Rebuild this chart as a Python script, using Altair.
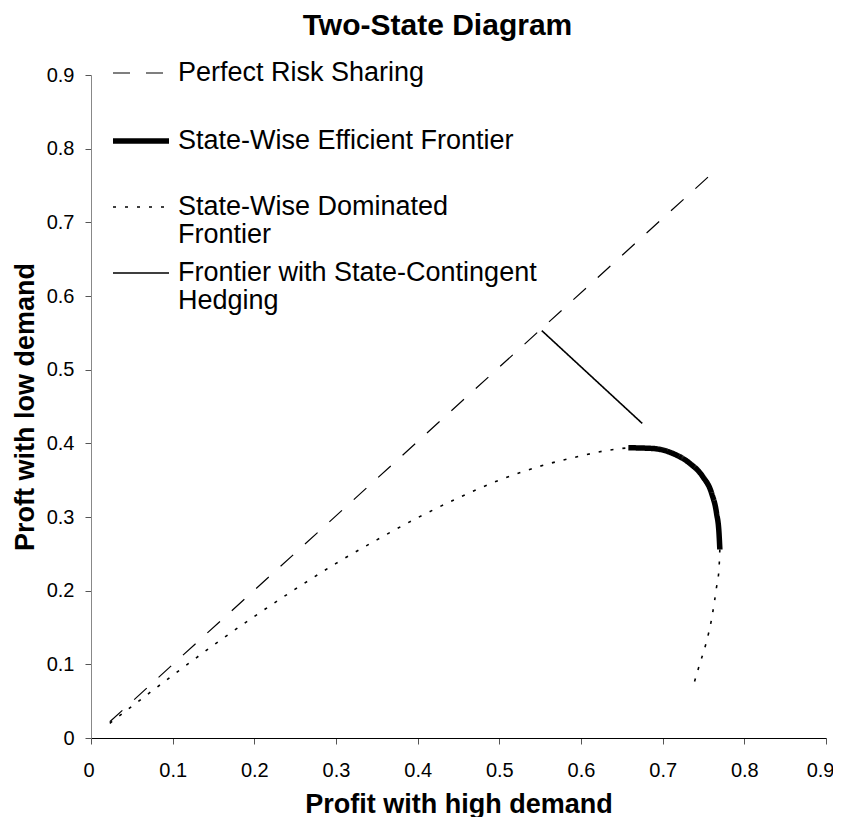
import altair as alt
import pandas as pd

FONT = "Liberation Sans"

series_names = [
    "Perfect Risk Sharing",
    "State-Wise Efficient Frontier",
    "State-Wise Dominated Frontier",
    "Frontier with State-Contingent Hedging",
]

tick_values = [0, 0.1, 0.2, 0.3, 0.4, 0.5, 0.6, 0.7, 0.8, 0.9]

# Perfect risk sharing (diagonal)
prs_x = [0.023, 0.766]
prs_y = [0.022, 0.772]

# State-wise efficient frontier (thick)
eff_x = [0.658, 0.688, 0.713, 0.733, 0.749, 0.760, 0.766, 0.769, 0.770]
eff_y = [0.394, 0.393, 0.386, 0.373, 0.355, 0.332, 0.305, 0.278, 0.256]

# State-wise dominated frontier (dotted), two pieces
dom_up_x = [0.023, 0.05, 0.10, 0.15, 0.20, 0.25, 0.30, 0.35, 0.40, 0.45, 0.50, 0.55, 0.60, 0.63, 0.658]
dom_up_y = [0.020, 0.043, 0.085, 0.126, 0.165, 0.202, 0.237, 0.269, 0.299, 0.326, 0.350, 0.369, 0.383, 0.390, 0.394]
dom_lo_x = [0.770, 0.769, 0.766, 0.760, 0.753, 0.745, 0.737]
dom_lo_y = [0.256, 0.230, 0.205, 0.162, 0.128, 0.099, 0.069]

# Frontier with state-contingent hedging
hedge_x = [0.552, 0.675]
hedge_y = [0.553, 0.427]

pieces = [
    (series_names[0], "prs", prs_x, prs_y),
    (series_names[2], "dom_up", dom_up_x, dom_up_y),
    (series_names[2], "dom_lo", dom_lo_x, dom_lo_y),
    (series_names[1], "eff", eff_x, eff_y),
    (series_names[3], "hedge", hedge_x, hedge_y),
]
rows = []
for name, seg, xs, ys in pieces:
    for i, (xv, yv) in enumerate(zip(xs, ys)):
        rows.append({"series": name, "segment": seg, "idx": i, "x": xv, "y": yv})
df = pd.DataFrame(rows)

label_expr = (
    "datum.label == 'State-Wise Dominated Frontier' ? ['State-Wise Dominated', 'Frontier'] : "
    "datum.label == 'Frontier with State-Contingent Hedging' ? ['Frontier with State-Contingent', 'Hedging'] : "
    "[datum.label, '']"
)

legend = alt.Legend(
    title=None,
    orient="none",
    legendX=33,
    legendY=-17,
    symbolType="M-2,0H2",
    symbolSize=784,
    symbolStrokeColor="black",
    labelFont=FONT,
    labelFontSize=27,
    labelColor="black",
    labelLimit=700,
    labelOffset=20,
    labelBaseline="middle",
    labelExpr=label_expr,
    rowPadding=10,
    padding=0,
)

dash_scale = alt.Scale(domain=series_names, range=[[17, 16], [1, 0], [3, 9], [1, 0]])
width_scale = alt.Scale(type="ordinal", domain=series_names, range=[1.2, 5.5, 1.6, 1.6])

x_axis = alt.Axis(
    values=tick_values, format="~g", grid=False,
    labelFont=FONT, labelFontSize=20, labelColor="black", labelPadding=16,
    labelFlush=True, labelFlushOffset=8,
    tickSize=6, tickColor="#555555", domainColor="black",
    title="Profit with high demand", titleFont=FONT, titleFontSize=27,
    titleFontWeight="bold", titleColor="black", titlePadding=11,
)
y_axis = alt.Axis(
    values=tick_values, format="~g", grid=False,
    labelFont=FONT, labelFontSize=20, labelColor="black", labelPadding=11, labelFlush=False,
    tickSize=6, tickColor="#555555", domainColor="#888888",
    title="Proft with low demand", titleFont=FONT, titleFontSize=27,
    titleFontWeight="bold", titleColor="black", titlePadding=7,
)

chart = (
    alt.Chart(df)
    .mark_line(color="black", strokeCap="butt", interpolate="monotone")
    .encode(
        x=alt.X("x:Q", scale=alt.Scale(domain=[0, 0.9], nice=False, zero=False), axis=x_axis),
        y=alt.Y("y:Q", scale=alt.Scale(domain=[0, 0.9], nice=False, zero=False), axis=y_axis),
        detail="segment:N",
        order="idx:Q",
        strokeDash=alt.StrokeDash("series:N", scale=dash_scale, legend=legend),
        strokeWidth=alt.StrokeWidth("series:N", scale=width_scale, legend=legend),
    )
    .properties(
        width=735,
        height=663,
        autosize="none",
        padding={"left": 83, "top": 67, "right": 7, "bottom": 79},
        title=alt.TitleParams(
            "Two-State Diagram", font=FONT, fontSize=30, fontWeight="bold",
            anchor="middle", frame="group", offset=-7, baseline="alphabetic",
            dx=-21, color="black",
        ),
    )
    .configure(style={"guide-label": {"lineHeight": 28}})
    .configure_view(stroke=None)
)

chart.save("out.html", embed_options={"renderer": "svg", "actions": False})
